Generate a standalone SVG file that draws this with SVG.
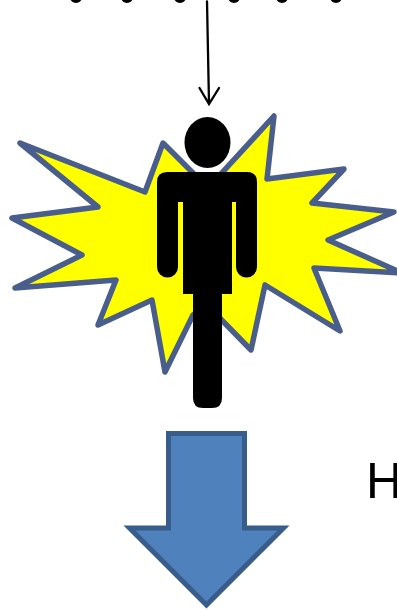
<svg xmlns="http://www.w3.org/2000/svg" width="397" height="610" viewBox="0 0 397 610">
<style>
.dot{fill:#000}
.man{fill:#000}
.wire{fill:none;stroke:#000;stroke-width:2.300;stroke-linecap:round;stroke-linejoin:miter}
text{font-family:"Liberation Sans",Arial,sans-serif;fill:#000}
</style>
<rect width="397" height="610" fill="#fff"/>
<g id="dots">
<circle class="dot" cx="76" cy="-3" r="6"/>
<circle class="dot" cx="127" cy="-3" r="6"/>
<circle class="dot" cx="180" cy="-3" r="6"/>
<circle class="dot" cx="234" cy="-3" r="6"/>
<circle class="dot" cx="282" cy="-3" r="6"/>
<circle class="dot" cx="336" cy="-3" r="6"/>
</g>
<g id="connectors">
<path class="wire" d="M207 1.500L209 103.500M199.500 88L209 104L219 88"/>
</g>
<g id="burst">
<path d="M20 143L145 192L163 143L208 188L274 116L267 179L344 169L312 203L394 212L328 240L402 273L314 268L340 331L265 285L251 350L207 305L193 315L165 372L152 300L98 325L116 280L15 288L82 255L12 218L98 207Z" fill="#ff0" stroke="#4a5e8e" stroke-width="5.500" stroke-linejoin="round"/>
</g>
<g id="person">
<ellipse class="man" cx="207.500" cy="142.500" rx="23" ry="25.500"/>
<path class="man" d="M167 172H247Q257 172 257 182V267A10 10 0 0 1 236 267V202H232V294H222V398Q222 408 212 408H203Q193 408 193 398V294H183V202H178V267A10 10 0 0 1 157 267V182Q157 172 167 172Z"/>
</g>
<g id="down-arrow">
<path d="M168.500 433.500H244.500V528H283.500L206.500 605L129.500 528H168.500Z" fill="#4f81bd" stroke="#385d8a" stroke-width="5"/>
</g>
<g id="label">
<text x="366" y="498" font-size="50">H</text>
</g>
</svg>
